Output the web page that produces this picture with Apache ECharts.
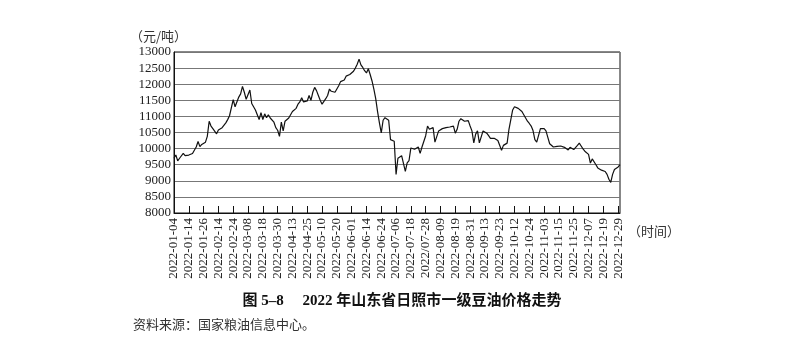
<!DOCTYPE html>
<html>
<head>
<meta charset="utf-8">
<script src="https://cdn.jsdelivr.net/npm/echarts@6/dist/echarts.min.js"></script>
<style>
html,body{margin:0;padding:0;background:#fff;}
#chart{width:806px;height:359px;}
</style>
</head>
<body>
<div id="chart"></div>
<script>
// Trading days of 2022 (category axis)
const dates = [
'2022-01-04','2022-01-05','2022-01-06','2022-01-07','2022-01-10','2022-01-11','2022-01-12','2022-01-13','2022-01-14','2022-01-17','2022-01-18','2022-01-19','2022-01-20','2022-01-21','2022-01-24','2022-01-25','2022-01-26','2022-01-27','2022-01-28',
'2022-02-07','2022-02-08','2022-02-09','2022-02-10','2022-02-11','2022-02-14','2022-02-15','2022-02-16','2022-02-17','2022-02-18','2022-02-21','2022-02-22','2022-02-23','2022-02-24','2022-02-25','2022-02-28',
'2022-03-01','2022-03-02','2022-03-03','2022-03-04','2022-03-07','2022-03-08','2022-03-09','2022-03-10','2022-03-11','2022-03-14','2022-03-15','2022-03-16','2022-03-17','2022-03-18','2022-03-21','2022-03-22','2022-03-23','2022-03-24','2022-03-25','2022-03-28','2022-03-29','2022-03-30','2022-03-31',
'2022-04-01','2022-04-06','2022-04-07','2022-04-08','2022-04-11','2022-04-12','2022-04-13','2022-04-14','2022-04-15','2022-04-18','2022-04-19','2022-04-20','2022-04-21','2022-04-22','2022-04-25','2022-04-26','2022-04-27','2022-04-28','2022-04-29',
'2022-05-05','2022-05-06','2022-05-09','2022-05-10','2022-05-11','2022-05-12','2022-05-13','2022-05-16','2022-05-17','2022-05-18','2022-05-19','2022-05-20','2022-05-23','2022-05-24','2022-05-25','2022-05-26','2022-05-27','2022-05-30','2022-05-31',
'2022-06-01','2022-06-02','2022-06-06','2022-06-07','2022-06-08','2022-06-09','2022-06-10','2022-06-13','2022-06-14','2022-06-15','2022-06-16','2022-06-17','2022-06-20','2022-06-21','2022-06-22','2022-06-23','2022-06-24','2022-06-27','2022-06-28','2022-06-29','2022-06-30',
'2022-07-01','2022-07-04','2022-07-05','2022-07-06','2022-07-07','2022-07-08','2022-07-11','2022-07-12','2022-07-13','2022-07-14','2022-07-15','2022-07-18','2022-07-19','2022-07-20','2022-07-21','2022-07-22','2022-07-25','2022-07-26','2022-07-27','2022/07-28','2022-07-29',
'2022-08-01','2022-08-02','2022-08-03','2022-08-04','2022-08-05','2022-08-08','2022-08-09','2022-08-10','2022-08-11','2022-08-12','2022-08-15','2022-08-16','2022-08-17','2022-08-18','2022-08-19','2022-08-22','2022-08-23','2022-08-24','2022-08-25','2022-08-26','2022-08-29','2022-08-30','2022-08-31',
'2022-09-01','2022-09-02','2022-09-05','2022-09-06','2022-09-07','2022-09-08','2022-09-09','2022-09-13','2022-09-14','2022-09-15','2022-09-16','2022-09-19','2022-09-20','2022-09-21','2022-09-22','2022-09-23','2022-09-26','2022-09-27','2022-09-28','2022-09-29','2022-09-30',
'2022-10-10','2022-10-11','2022-10-12','2022-10-13','2022-10-14','2022-10-17','2022-10-18','2022-10-19','2022-10-20','2022-10-21','2022-10-24','2022-10-25','2022-10-26','2022-10-27','2022-10-28','2022-10-31',
'2022-11-01','2022-11-02','2022-11-03','2022-11-04','2022-11-07','2022-11-08','2022-11-09','2022-11-10','2022-11-11','2022-11-14','2022-11-15','2022-11-16','2022-11-17','2022-11-18','2022-11-21','2022-11-22','2022-11-23','2022-11-24','2022-11-25','2022-11-28','2022-11-29','2022-11-30',
'2022-12-01','2022-12-02','2022-12-05','2022-12-06','2022-12-07','2022-12-08','2022-12-09','2022-12-12','2022-12-13','2022-12-14','2022-12-15','2022-12-16','2022-12-19','2022-12-20','2022-12-21','2022-12-22','2022-12-23','2022-12-26','2022-12-27','2022-12-28','2022-12-29','2022-12-30'
];

// 日照一级豆油价格（元/吨）
const prices = [
9700,9800,9620,9700,9760,9850,9780,9790,9800,9820,9850,9950,10050,10220,10060,10130,10150,10200,10380,
10850,10700,10620,10580,10460,10580,10620,10650,10700,10800,10900,11020,11050,11520,11300,11320,
11600,11700,11930,11750,11530,11580,11820,11400,11300,11200,11050,10900,11120,10900,11080,10960,11050,10950,10950,10820,10650,10570,10380,
10820,10550,10850,10900,10950,11000,11150,11120,11250,11380,11450,11580,11450,11480,11480,11650,11500,11750,11900,
11800,11650,11500,11380,11420,11550,11650,11850,11780,11760,11750,11850,11950,12080,12130,12130,12250,12230,12300,
12330,12400,12500,12620,12780,12600,12520,12420,12350,12480,12300,12100,11850,11550,11150,10800,10490,10880,10960,10920,10880,
10280,10250,10230,9200,9700,9760,9780,9820,9290,9560,9630,10020,10060,9980,10040,10050,9850,10050,10080,10400,10700,
10600,10580,10650,10200,10250,10550,10580,10620,10560,10650,10600,10670,10620,10700,10480,10600,10850,10930,10880,10850,10830,10870,10700,
10550,10180,10450,10550,10180,10230,10550,10560,10480,10400,10320,10280,10320,10300,10250,10260,9950,10100,10130,10170,10600,
10900,11200,11300,11350,11250,11200,11150,11050,10950,10850,10780,10700,10560,10280,10200,10230,
10620,10650,10620,10550,10350,10150,10200,10050,10100,10070,10050,10080,10020,10040,9980,9960,10040,10060,9970,9950,10100,10170,
10080,9990,9920,9880,9820,9550,9680,9700,9500,9400,9350,9330,9300,9290,9200,9050,8950,9200,9350,9400,9430,9500
];

const yMin = 8000, yMax = 13000, yStep = 500;
const titleText = '图 5–8\u3000 2022 年山东省日照市一级豆油价格走势';
const sourceText = '资料来源：国家粮油信息中心。';
const yUnit = '（元/吨）';
const xUnit = '（时间）';

const chart = echarts.init(document.getElementById('chart'), null, {renderer: 'canvas'});
const serif = '"Liberation Serif", "Noto Sans CJK SC", serif';
chart.setOption({
  animation: false,
  backgroundColor: '#fff',
  grid: {left: 174, right: 186, top: 52, bottom: 146, show: true, borderColor: '#111', borderWidth: 1, backgroundColor: 'transparent'},
  xAxis: {
    type: 'category',
    data: dates,
    boundaryGap: false,
    axisLine: {show: true, lineStyle: {color: '#111', width: 1}},
    axisTick: {show: true, inside: true, length: 7, interval: 7, lineStyle: {color: '#111', width: 1}},
    axisLabel: {interval: 7, rotate: 90, margin: 5, fontFamily: serif, fontSize: 13, color: '#222'},
    splitLine: {show: false}
  },
  yAxis: {
    type: 'value',
    min: yMin, max: yMax, interval: yStep,
    axisLine: {show: true, lineStyle: {color: '#111', width: 1}},
    axisTick: {show: false},
    axisLabel: {margin: 3, fontFamily: serif, fontSize: 13, color: '#222', formatter: v => String(v)},
    splitLine: {show: true, lineStyle: {color: '#777', width: 1}}
  },
  series: [{
    type: 'line',
    data: prices,
    showSymbol: false,
    symbol: 'none',
    lineStyle: {color: '#111', width: 1.2},
    z: 3
  }],
  graphic: [
    {type: 'text', left: 130, top: 30, style: {text: yUnit, font: '13px "Noto Sans CJK SC", sans-serif', fill: '#333'}},
    {type: 'text', left: 628, top: 225, style: {text: xUnit, font: '13px "Noto Sans CJK SC", sans-serif', fill: '#333'}},
    {type: 'text', x: 402, y: 301, style: {text: titleText, font: 'bold 15px "Liberation Serif", "Noto Sans CJK SC", serif', fill: '#111', textAlign: 'center', textVerticalAlign: 'middle'}},
    {type: 'text', left: 133, top: 318, style: {text: sourceText, font: '13px "Noto Sans CJK SC", sans-serif', fill: '#333'}}
  ]
});
</script>
</body>
</html>
